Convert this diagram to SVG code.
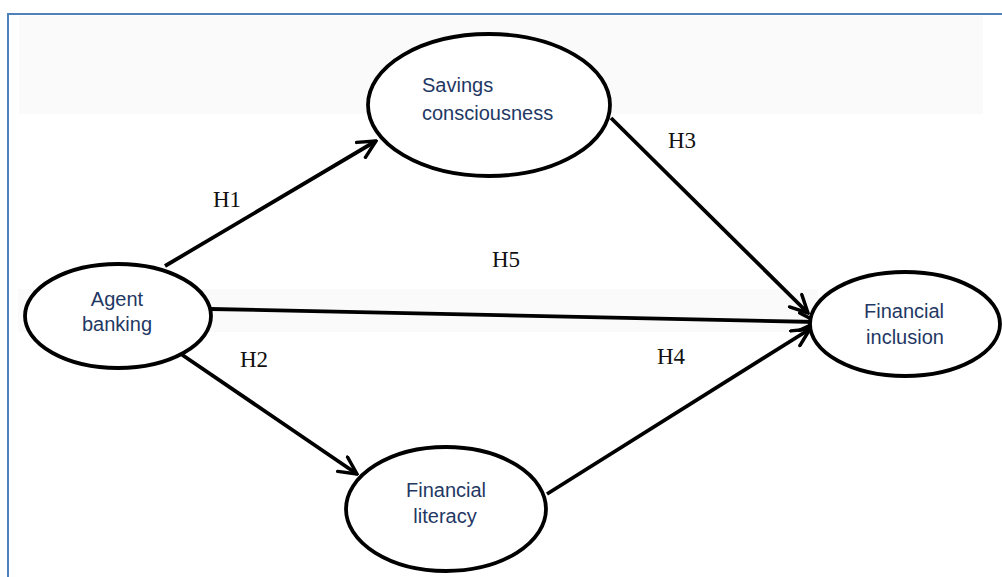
<svg xmlns="http://www.w3.org/2000/svg" width="1002" height="577" viewBox="0 0 1002 577">
<style>
.node{fill:#fff;stroke:#000;stroke-width:3.8}
.lbl{font-family:"Liberation Sans",Arial,sans-serif;font-size:20px;fill:#1f3864}
.h{font-family:"Liberation Serif","Times New Roman",serif;font-size:23px;fill:#111}
.conn line{stroke:#000;stroke-width:3.8;fill:none;marker-end:url(#arr)}
</style>
<defs>
<marker id="arr" viewBox="0 0 12 12" refX="11" refY="6" markerWidth="5.5" markerHeight="5.5" orient="auto" markerUnits="strokeWidth">
<path d="M1,1 L11,6 L1,11" fill="none" stroke="#000" stroke-width="2" stroke-linecap="round" stroke-linejoin="miter"/>
</marker>
</defs>
<rect x="0" y="0" width="1002" height="577" fill="#fff"/>
<rect x="19" y="16" width="964" height="98" fill="#fafafa"/>
<rect x="18" y="289" width="800" height="43" fill="#fafafa"/>
<rect x="8" y="14" width="1010" height="600" fill="none" stroke="#4f81bd" stroke-width="2"/>
<g id="connectors" class="conn">
<line x1="165" y1="266" x2="376" y2="141"/>
<line x1="611" y1="118" x2="808" y2="313"/>
<line x1="211" y1="309" x2="817" y2="322"/>
<line x1="178" y1="352" x2="357" y2="474"/>
<line x1="547" y1="494" x2="810" y2="329"/>
</g>
<g id="node-savings">
<ellipse class="node" cx="489" cy="105" rx="121" ry="71"/>
<text class="lbl" x="422" y="92">Savings</text>
<text class="lbl" x="422" y="120">consciousness</text>
</g>
<g id="node-agent">
<ellipse class="node" cx="118" cy="316" rx="93" ry="52"/>
<text class="lbl" x="117" y="306" text-anchor="middle">Agent</text>
<text class="lbl" x="117" y="331" text-anchor="middle">banking</text>
</g>
<g id="node-inclusion">
<ellipse class="node" cx="905" cy="324" rx="95" ry="52"/>
<text class="lbl" x="904" y="318" text-anchor="middle">Financial</text>
<text class="lbl" x="905" y="344" text-anchor="middle">inclusion</text>
</g>
<g id="node-literacy">
<ellipse class="node" cx="446" cy="509" rx="100" ry="62"/>
<text class="lbl" x="446" y="497" text-anchor="middle">Financial</text>
<text class="lbl" x="445" y="523" text-anchor="middle">literacy</text>
</g>
<g id="labels">
<text class="h" x="213" y="207">H1</text>
<text class="h" x="240" y="367">H2</text>
<text class="h" x="668" y="148">H3</text>
<text class="h" x="657" y="364">H4</text>
<text class="h" x="492" y="267">H5</text>
</g>
</svg>
